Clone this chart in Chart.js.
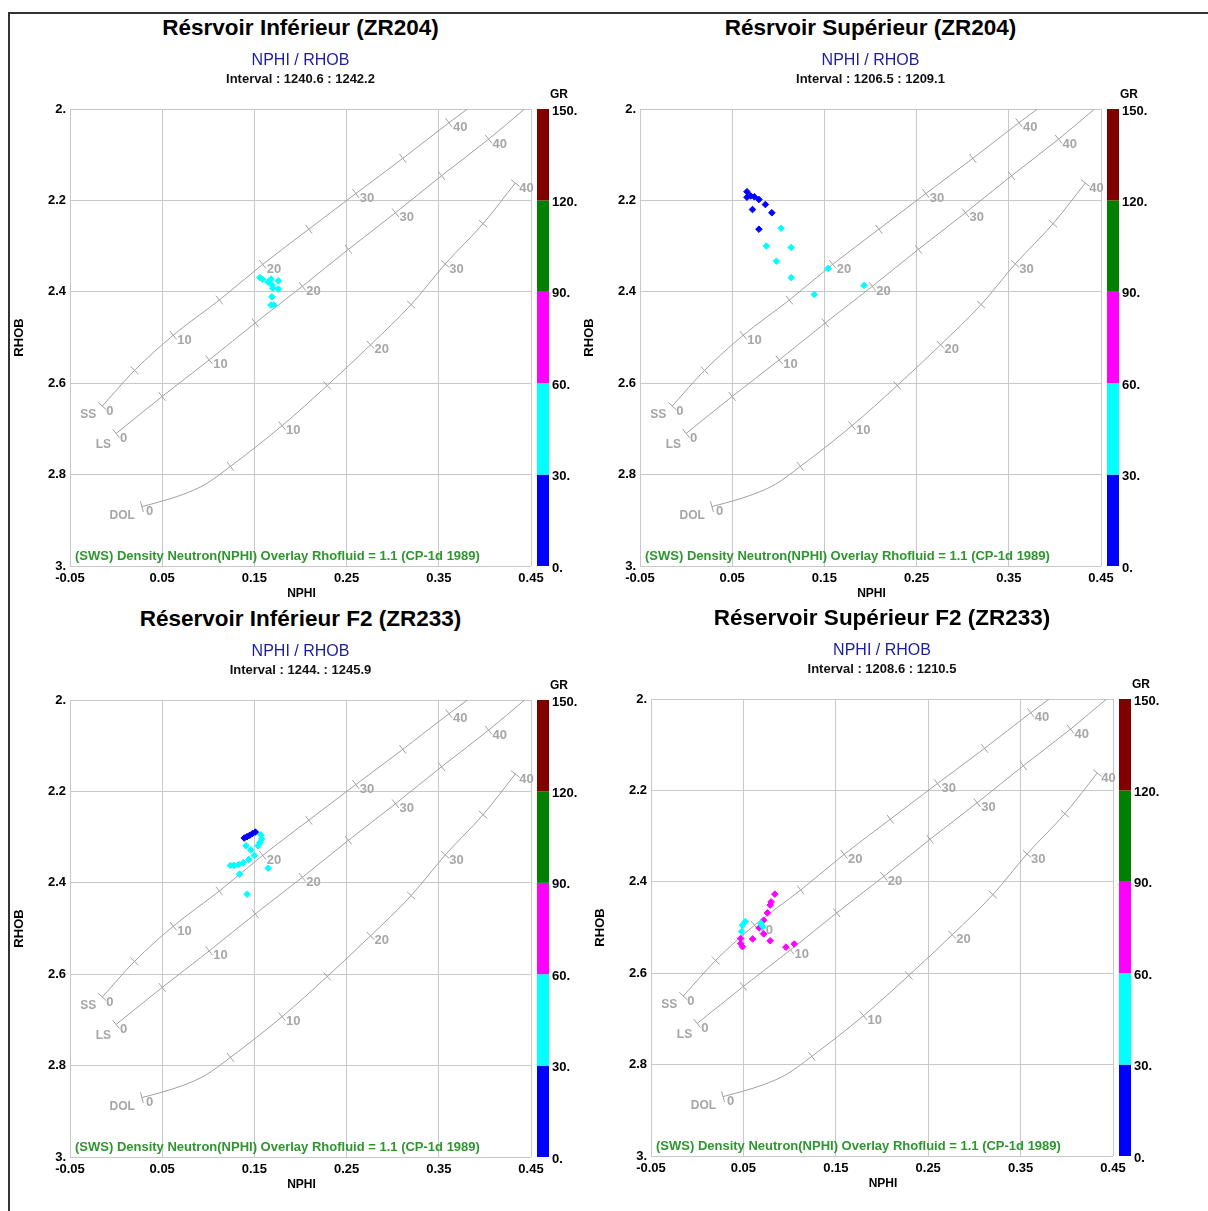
<!DOCTYPE html>
<html>
<head>
<meta charset="utf-8">
<script src="https://cdn.jsdelivr.net/npm/chart.js@4.4.1/dist/chart.umd.min.js"></script>
<style>
  body { margin: 0; background: #fff; font-family: "Liberation Sans", Arial, sans-serif; }
  #frame { position: absolute; left: 8px; top: 12px; width: 1200px; height: 1199px;
           border-top: 2px solid #333; border-left: 2px solid #333; }
  canvas { position: absolute; }
  .hdr { position: absolute; width: 600px; text-align: center; white-space: nowrap; }
  .t1 { font-weight: bold; font-size: 22.5px; line-height: 26px; color: #000; }
  .t2 { font-size: 16px; line-height: 20px; color: #1c1c9c; }
  .t3 { font-weight: bold; font-size: 13px; line-height: 16px; color: #111; }
</style>
</head>
<body>
<div id="frame"></div>
<script>
// axis ticks
const xTicks = [-0.05, 0.05, 0.15, 0.25, 0.35, 0.45];
const xTickLabels = ['-0.05', '0.05', '0.15', '0.25', '0.35', '0.45'];
const yTicks = [2.0, 2.2, 2.4, 2.6, 2.8, 3.0];
const yTickLabels = ['2.', '2.2', '2.4', '2.6', '2.8', '3.'];

// GR colour scale
const grBounds = [0, 30, 60, 90, 120, 150];
const grLabels = ['0.', '30.', '60.', '90.', '120.', '150.'];
const grColors = ['#0000ff', '#00ffff', '#ff00ff', '#008000', '#800000'];

// CP-1d overlay lines (porosity ticks, null = no tick)
const ssNphi = [-0.015, 0.020, 0.062, 0.112, 0.159, 0.209, 0.260, 0.311, 0.361, 0.381];
const ssRhob = [2.650, 2.572, 2.495, 2.418, 2.340, 2.263, 2.185, 2.108, 2.030, 2.000];
const ssPor  = [0, 5, 10, 15, 20, 25, 30, 35, 40, null];
const lsNphi = [0.000, 0.050, 0.101, 0.151, 0.202, 0.252, 0.303, 0.353, 0.404, 0.443];
const lsRhob = [2.710, 2.629, 2.549, 2.468, 2.388, 2.307, 2.227, 2.146, 2.066, 2.000];
const lsPor  = [0, 5, 10, 15, 20, 25, 30, 35, 40, null];
const dolNphi = [0.028, 0.050, 0.073, 0.097, 0.124, 0.180, 0.229, 0.276, 0.320, 0.357, 0.398, 0.433];
const dolRhob = [2.870, 2.858, 2.843, 2.821, 2.782, 2.693, 2.605, 2.516, 2.428, 2.339, 2.251, 2.162];
const dolPor  = [0, null, null, null, 5, 10, 15, 20, 25, 30, 35, 40];

// panel data
const tlNphi = [0.156, 0.159, 0.165, 0.168, 0.169, 0.170, 0.176, 0.176, 0.169, 0.168, 0.171];
const tlRhob = [2.369, 2.373, 2.379, 2.372, 2.385, 2.392, 2.376, 2.394, 2.411, 2.429, 2.429];
const tlGr   = [45, 45, 45, 45, 45, 45, 45, 45, 45, 45, 45];

const trNphi = [0.066, 0.066, 0.070, 0.074, 0.079, 0.086, 0.072, 0.093, 0.079,
                0.103, 0.087, 0.114, 0.098, 0.114, 0.139, 0.154, 0.193];
const trRhob = [2.181, 2.193, 2.190, 2.192, 2.198, 2.209, 2.220, 2.227, 2.263,
                2.261, 2.300, 2.303, 2.333, 2.369, 2.406, 2.349, 2.386];
const trGr   = [20, 20, 20, 20, 20, 20, 20, 20, 20, 45, 45, 45, 45, 45, 45, 45, 45];

const blNphi = [0.139, 0.142, 0.145, 0.148, 0.151, 0.157, 0.158, 0.156, 0.154, 0.141,
                0.146, 0.150, 0.144, 0.138, 0.133, 0.128, 0.124, 0.134, 0.165, 0.142];
const blRhob = [2.302, 2.299, 2.296, 2.292, 2.289, 2.295, 2.304, 2.312, 2.319, 2.319,
                2.328, 2.340, 2.349, 2.356, 2.360, 2.362, 2.362, 2.381, 2.368, 2.425];
const blGr   = [20, 20, 20, 20, 20, 45, 45, 45, 45, 45, 45, 45, 45, 45, 45, 45, 45, 45, 45, 45];

const brNphi = [0.084, 0.080, 0.079, 0.076, 0.072, 0.067, 0.072, 0.079, 0.060, 0.047,
                0.047, 0.049, 0.096, 0.105, 0.052, 0.049, 0.048, 0.069, 0.071];
const brRhob = [2.427, 2.444, 2.451, 2.468, 2.484, 2.501, 2.514, 2.529, 2.525, 2.524,
                2.535, 2.542, 2.543, 2.536, 2.487, 2.495, 2.509, 2.491, 2.498];
const brGr   = [75, 75, 75, 75, 75, 75, 75, 75, 75, 75, 75, 75, 75, 75, 45, 45, 45, 45, 45];

const FONT = '"Liberation Sans", Arial, sans-serif';
const lineGray = '#a0a0a0';
const textGray = '#a6a6a6';
const caption = '(SWS) Density Neutron(NPHI) Overlay Rhofluid = 1.1 (CP-1d 1989)';

const rockLines = [
  { name: 'SS', nphi: ssNphi, rhob: ssRhob, por: ssPor, dx: -6, dy: 9 },
  { name: 'LS', nphi: lsNphi, rhob: lsRhob, por: lsPor, dx: -5, dy: 11 },
  { name: 'DOL', nphi: dolNphi, rhob: dolRhob, por: dolPor, dx: -7, dy: 9 }
];

function grColor(v) {
  for (let i = 0; i < grColors.length; i++) {
    if (v < grBounds[i + 1]) return grColors[i];
  }
  return grColors[grColors.length - 1];
}

const overlayPlugin = {
  id: 'overlay',
  beforeDatasetsDraw(chart) {
    const { ctx, scales: { x, y } } = chart;
    ctx.save();
    ctx.strokeStyle = lineGray;
    ctx.lineWidth = 1;
    ctx.fillStyle = textGray;
    ctx.textBaseline = 'middle';
    rockLines.forEach(line => {
      const pts = line.nphi.map((v, i) => [x.getPixelForValue(v), y.getPixelForValue(line.rhob[i])]);
      ctx.font = 'bold 13px ' + FONT;
      pts.forEach((pt, i) => {
        const por = line.por[i];
        if (por === null) return;
        const a = pts[Math.max(i - 1, 0)], b = pts[Math.min(i + 1, pts.length - 1)];
        let dx = b[0] - a[0], dy = b[1] - a[1];
        const len = Math.hypot(dx, dy);
        dx /= len; dy /= len;
        ctx.beginPath();
        ctx.moveTo(pt[0] + dy * 5.5, pt[1] - dx * 5.5);
        ctx.lineTo(pt[0] - dy * 5.5, pt[1] + dx * 5.5);
        ctx.stroke();
        if (por % 10 === 0) {
          ctx.textAlign = 'left';
          ctx.fillText(String(por), pt[0] + 4, pt[1] + 5);
        }
      });
      ctx.font = 'bold 12px ' + FONT;
      ctx.textAlign = 'right';
      ctx.fillText(line.name, pts[0][0] + line.dx, pts[0][1] + line.dy);
    });
    ctx.restore();
  },
  afterDraw(chart) {
    const { ctx, chartArea: ca } = chart;
    ctx.save();
    // caption
    ctx.fillStyle = '#2f962f';
    ctx.font = 'bold 13px ' + FONT;
    ctx.textAlign = 'left';
    ctx.textBaseline = 'middle';
    ctx.fillText(caption, ca.left + 5, ca.bottom - 10);
    // axis titles
    ctx.fillStyle = '#000';
    ctx.font = 'bold 12px ' + FONT;
    ctx.textAlign = 'center';
    ctx.fillText('NPHI', (ca.left + ca.right) / 2 + 1, ca.bottom + 28);
    ctx.save();
    ctx.translate(ca.left - 51, (ca.top + ca.bottom) / 2);
    ctx.rotate(-Math.PI / 2);
    ctx.font = 'bold 13px ' + FONT;
    ctx.fillText('RHOB', 0, 0);
    ctx.restore();
    // GR colour bar
    const bx = ca.right + 6, bw = 12;
    const h = ca.bottom - ca.top;
    grColors.forEach((c, i) => {
      const y0 = ca.bottom - h * grBounds[i + 1] / 150;
      const y1 = ca.bottom - h * grBounds[i] / 150;
      ctx.fillStyle = c;
      ctx.fillRect(bx, y0, bw, y1 - y0);
    });
    ctx.fillStyle = '#000';
    ctx.font = 'bold 13px ' + FONT;
    ctx.textAlign = 'left';
    grLabels.forEach((lab, i) => {
      ctx.fillText(lab, bx + 15, ca.bottom - h * grBounds[i] / 150 + 2);
    });
    ctx.font = 'bold 12px ' + FONT;
    ctx.fillText('GR', bx + 13, ca.top - 14);
    ctx.restore();
  }
};

function makePanel(p) {
  const padTop = 30, yAxisW = 70, xAxisH = 39, padRight = 69, plotH = 457;
  const cv = document.createElement('canvas');
  cv.width = yAxisW + p.plotW + padRight;
  cv.height = padTop + plotH + xAxisH;
  cv.style.left = (p.left - yAxisW) + 'px';
  cv.style.top = (p.top - padTop) + 'px';
  document.body.appendChild(cv);

  const cx = p.left + p.plotW / 2;
  [['t1', p.title, -81 - 13], ['t2', 'NPHI / RHOB', -49 - 10], ['t3', p.interval, -30 - 8]].forEach(h => {
    const d = document.createElement('div');
    d.className = 'hdr ' + h[0];
    d.textContent = h[1];
    d.style.left = (cx - 300) + 'px';
    d.style.top = (p.top + h[2]) + 'px';
    document.body.appendChild(d);
  });

  const lineSet = (nphi, rhob) => ({
    type: 'scatter',
    data: nphi.map((v, i) => ({ x: v, y: rhob[i] })),
    showLine: true,
    borderColor: lineGray,
    borderWidth: 1,
    pointRadius: 0,
    cubicInterpolationMode: 'monotone',
    order: 2
  });

  new Chart(cv.getContext('2d'), {
    type: 'scatter',
    data: {
      datasets: [
        {
          data: p.nphi.map((v, i) => ({ x: v, y: p.rhob[i] })),
          pointStyle: 'rectRot',
          pointRadius: 3.3,
          pointBorderWidth: 1,
          pointBackgroundColor: p.gr.map(grColor),
          pointBorderColor: p.gr.map(grColor),
          order: 1
        },
        lineSet(ssNphi, ssRhob),
        lineSet(lsNphi, lsRhob),
        lineSet(dolNphi, dolRhob)
      ]
    },
    options: {
      responsive: false,
      animation: false,
      layout: { padding: { top: padTop, right: padRight, left: 0, bottom: 0 } },
      plugins: { legend: { display: false }, tooltip: { enabled: false } },
      scales: {
        x: {
          type: 'linear', min: -0.05, max: 0.45,
          afterBuildTicks: s => { s.ticks = xTicks.map(v => ({ value: v })); },
          afterFit: s => { s.height = xAxisH; },
          ticks: {
            callback: (v, i) => xTickLabels[i],
            font: { family: FONT, size: 13, weight: 'bold' },
            color: '#000', padding: 5, maxRotation: 0, autoSkip: false
          },
          grid: { color: '#c8c8c8', drawTicks: false },
          border: { display: false }
        },
        y: {
          type: 'linear', min: 2, max: 3, reverse: true,
          afterBuildTicks: s => { s.ticks = yTicks.map(v => ({ value: v })); },
          afterFit: s => { s.width = yAxisW; },
          ticks: {
            callback: (v, i) => yTickLabels[i],
            font: { family: FONT, size: 13, weight: 'bold' },
            color: '#000', padding: 4, autoSkip: false
          },
          grid: { color: '#c8c8c8', drawTicks: false },
          border: { display: false }
        }
      }
    },
    plugins: [overlayPlugin]
  });
}

makePanel({ left: 70, top: 109, plotW: 461, title: 'Résrvoir Inférieur (ZR204)',
            interval: 'Interval : 1240.6 : 1242.2', nphi: tlNphi, rhob: tlRhob, gr: tlGr });
makePanel({ left: 640, top: 109, plotW: 461, title: 'Résrvoir Supérieur (ZR204)',
            interval: 'Interval : 1206.5 : 1209.1', nphi: trNphi, rhob: trRhob, gr: trGr });
makePanel({ left: 70, top: 700, plotW: 461, title: 'Réservoir Inférieur F2 (ZR233)',
            interval: 'Interval : 1244. : 1245.9', nphi: blNphi, rhob: blRhob, gr: blGr });
makePanel({ left: 651, top: 699, plotW: 462, title: 'Réservoir Supérieur F2 (ZR233)',
            interval: 'Interval : 1208.6 : 1210.5', nphi: brNphi, rhob: brRhob, gr: brGr });
</script>
</body>
</html>
